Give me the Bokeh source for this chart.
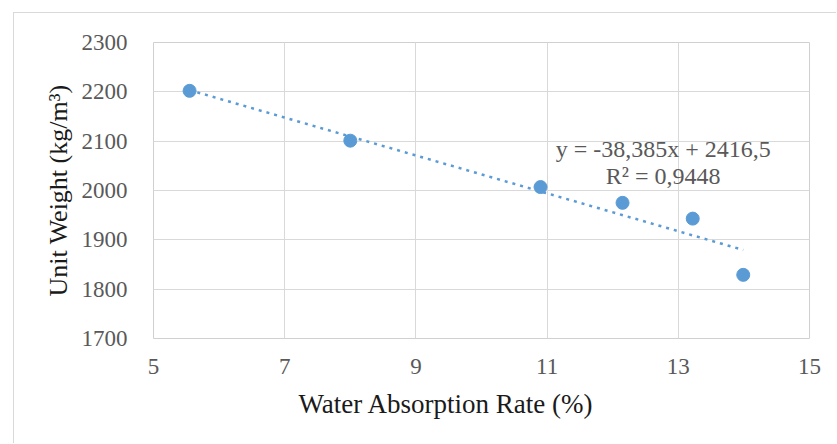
from bokeh.plotting import figure
from bokeh.models import ColumnDataSource, Range1d, FixedTicker, Label, Title
from bokeh.embed import file_html
from bokeh.resources import INLINE
import numpy as np

# data
absorption = [5.55, 8.0, 10.9, 12.15, 13.22, 13.99]
unit_weight = [2202, 2101, 2007, 1975, 1943, 1829]
trend_slope = -38.385
trend_intercept = 2416.5
x_ticks = [5, 7, 9, 11, 13, 15]
y_ticks = [1700, 1800, 1900, 2000, 2100, 2200, 2300]
eq_text = "y = -38,385x + 2416,5"
r2_text = "R² = 0,9448"

FONT = "Liberation Serif"
GRAY = "#595959"
BLUE = "#5B9BD5"
DARK = "#1a1a1a"

p = figure(width=823, height=431, output_backend="svg", toolbar_location=None,
           x_range=Range1d(5, 15), y_range=Range1d(1700, 2300),
           min_border_left=139, min_border_right=28, min_border_top=29, min_border_bottom=106)
p.margin = (12, 0, 0, 13)
p.styles = {"border-top": "1px solid #d9d9d9", "border-left": "1px solid #d9d9d9"}
p.background_fill_color = "white"
p.border_fill_color = "white"
p.outline_line_color = "#d0d0d0"
p.outline_line_width = 1

for ax in (p.xaxis[0], p.yaxis[0]):
    ax.axis_line_color = None
    ax.major_tick_line_color = None
    ax.minor_tick_line_color = None
    ax.major_label_text_font = FONT
    ax.major_label_text_font_size = "23px"
    ax.major_label_text_color = GRAY

p.xaxis.ticker = FixedTicker(ticks=x_ticks)
p.yaxis.ticker = FixedTicker(ticks=y_ticks)
p.xaxis.major_label_standoff = 14
p.yaxis.major_label_standoff = 20

# y-axis title as a left-side title placed next to the tick labels
yt = Title(text="Unit Weight (kg/m³)", align="center",
           text_font=FONT, text_font_size="26px", text_font_style="normal",
           text_color=DARK, standoff=11)
p.add_layout(yt, "left")

p.xgrid.grid_line_color = "#d9d9d9"
p.ygrid.grid_line_color = "#d9d9d9"
p.xgrid.grid_line_width = 1
p.ygrid.grid_line_width = 1

# trendline
xs = np.array([min(absorption), max(absorption)])
ys = trend_slope * xs + trend_intercept
p.line(xs, ys, line_color=BLUE, line_width=2.5, line_dash="3 5")

src = ColumnDataSource(dict(x=absorption, y=unit_weight))
p.scatter("x", "y", source=src, size=13, fill_color=BLUE, line_color=BLUE)

p.add_layout(Label(x=12.77, y=2085, text=eq_text, text_font=FONT, text_font_size="24px",
                   text_color=GRAY, text_align="center", text_baseline="middle"))
p.add_layout(Label(x=12.77, y=2030, text=r2_text, text_font=FONT, text_font_size="24px",
                   text_color=GRAY, text_align="center", text_baseline="middle"))

# x-axis title (placed left of centre as in the reference)
xt = Title(text="Water Absorption Rate (%)", align="left", offset=145,
           text_font=FONT, text_font_size="27px", text_font_style="normal",
           text_color=DARK, standoff=20)
p.add_layout(xt, "below")

open("out.html", "w").write(file_html(p, INLINE))
